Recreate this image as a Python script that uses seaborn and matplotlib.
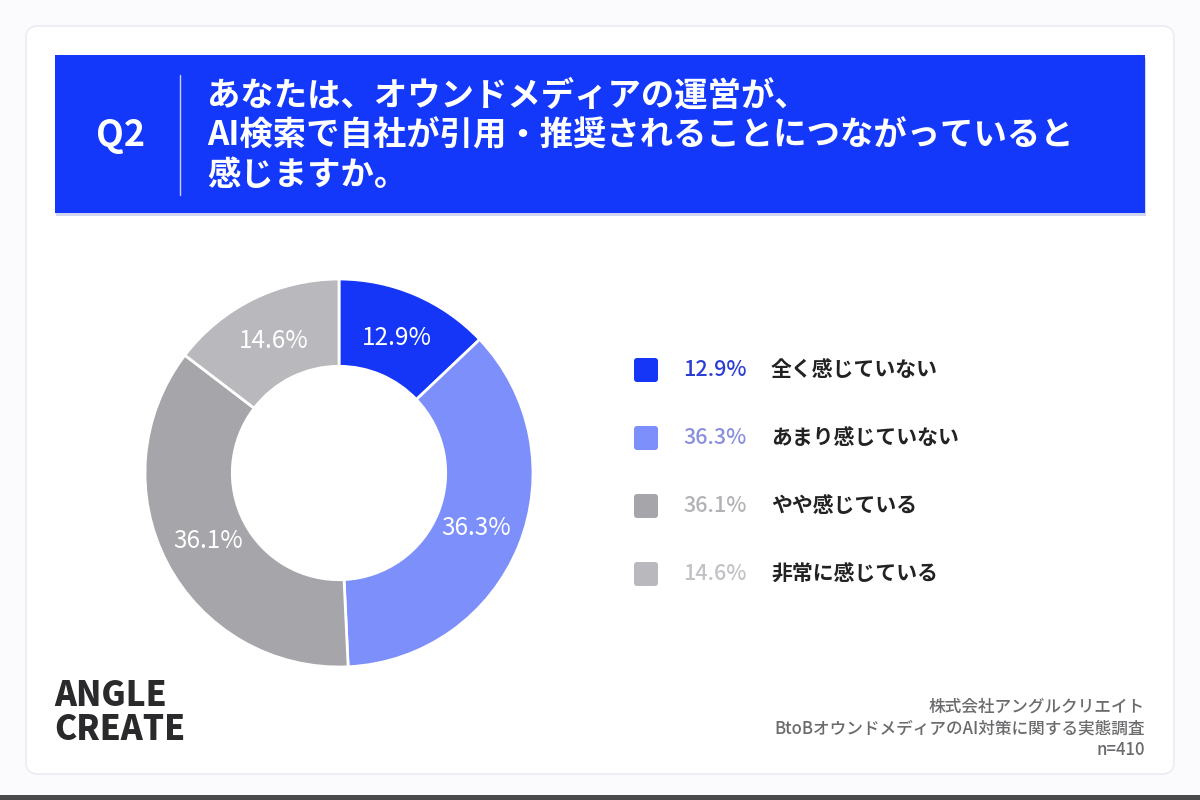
import matplotlib
matplotlib.use("Agg")
import matplotlib.pyplot as plt
from matplotlib.patches import FancyBboxPatch, Rectangle
import seaborn as sns

categories = ["全く感じていない", "あまり感じていない", "やや感じている", "非常に感じている"]
values = [12.9, 36.3, 36.1, 14.6]
slice_colors = ["#1536f7", "#7c8ffb", "#a6a5aa", "#b9b8bd"]
pct_colors = ["#2b3ed4", "#8b90de", "#b2b1b6", "#c2c1c6"]
title_lines = ["あなたは、オウンドメディアの運営が、",
               "AI検索で自社が引用・推奨されることにつながっていると",
               "感じますか。"]
question = "Q2"
source_lines = ["株式会社アングルクリエイト",
                "BtoBオウンドメディアのAI対策に関する実態調査",
                "n=410"]

sns.set_theme(style="white")
plt.rcParams['font.family'] = ['Noto Sans CJK JP', 'DejaVu Sans']

W, H = 1200, 800
fig = plt.figure(figsize=(12, 8), dpi=100)
fig.patch.set_facecolor("#fbfafd")

bg = fig.add_axes([0, 0, 1, 1])
bg.set_xlim(0, W)
bg.set_ylim(H, 0)
bg.axis("off")

# card
bg.add_patch(FancyBboxPatch((26, 26), 1148, 748, boxstyle="round,pad=0,rounding_size=12",
                            facecolor="white", edgecolor="#ececf0", lw=1.2))
# bottom strip
bg.add_patch(Rectangle((0, 795), W, 5, facecolor="#4a4a4c", edgecolor="none"))
# header bar with slight shadow
bg.add_patch(Rectangle((56, 58), 1090, 158, facecolor="#d0d6f0", edgecolor="none"))
bg.add_patch(Rectangle((55, 55), 1090, 158, facecolor="#1438fa", edgecolor="none"))
bg.plot([180, 180], [75, 195], color="#c9d1ff", lw=1)
bg.text(121, 136, question, color="white", fontsize=26, fontweight="bold",
        ha="center", va="center")
for i, line in enumerate(title_lines):
    bg.text(207, 96 + i * 40, line, color="white", fontsize=24, fontweight="bold",
            ha="left", va="center")

# legend
for i, (cat, v) in enumerate(zip(categories, values)):
    y = 370 + i * 68
    bg.add_patch(FancyBboxPatch((634, y - 12), 24, 24, boxstyle="round,pad=0,rounding_size=3",
                                facecolor=slice_colors[i], edgecolor="none"))
    bg.text(683, y, f"{v:.1f}%", color=pct_colors[i], fontsize=15.5, fontweight="medium",
            ha="left", va="center")
    bg.text(771, y, cat, color="#222222", fontsize=15, fontweight="bold",
            ha="left", va="center")

# logo
for txt, yy in [("ANGLE", 695), ("CREATE", 729)]:
    bg.text(54, yy, txt, color="#2a2a2c", fontsize=24, fontweight="heavy",
            ha="left", va="center")

# source
for i, line in enumerate(source_lines):
    bg.text(1145, 707 + i * 21.5, line, color="#6b6b6e", fontsize=12, fontweight="medium",
            ha="right", va="center")

# donut
cx, cy, R = 339, 473, 194
ax = fig.add_axes([(cx - R) / W, (H - cy - R) / H, 2 * R / W, 2 * R / H])
wedges, texts, autotexts = ax.pie(values, colors=slice_colors, startangle=90, counterclock=False,
                                  radius=1, autopct="%1.1f%%", pctdistance=0.76,
                                  wedgeprops=dict(width=0.45, edgecolor="white", linewidth=2),
                                  textprops=dict(color="white", fontsize=17.5))
ax.set_xlim(-1, 1)
ax.set_ylim(-1, 1)
ax.set_aspect("equal")
ax.axis("off")

fig.savefig("out.png", dpi=100, facecolor=fig.get_facecolor())
